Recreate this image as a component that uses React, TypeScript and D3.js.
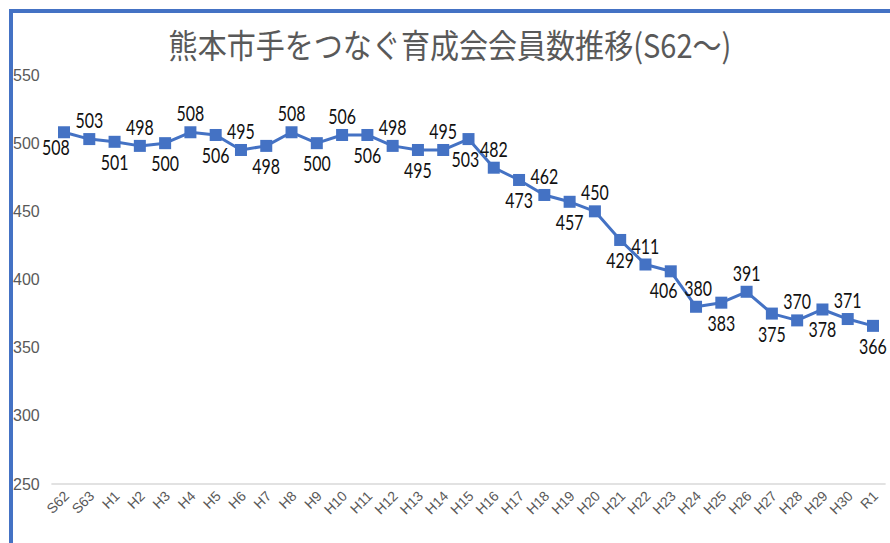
import React, { useEffect, useRef } from 'react';
import * as d3 from 'd3';

const TITLE = '熊本市手をつなぐ育成会会員数推移(S62～)';

const categories = [
  'S62', 'S63', 'H1', 'H2', 'H3', 'H4', 'H5', 'H6', 'H7', 'H8', 'H9', 'H10',
  'H11', 'H12', 'H13', 'H14', 'H15', 'H16', 'H17', 'H18', 'H19', 'H20', 'H21',
  'H22', 'H23', 'H24', 'H25', 'H26', 'H27', 'H28', 'H29', 'H30', 'R1',
];

const members = [
  508, 503, 501, 498, 500, 508, 506, 495, 498, 508, 500, 506,
  506, 498, 495, 495, 503, 482, 473, 462, 457, 450, 429,
  411, 406, 380, 383, 391, 375, 370, 378, 371, 366,
];

const yTicks = [250, 300, 350, 400, 450, 500, 550];

const WIDTH = 890;
const HEIGHT = 543;
const BLUE = '#4472C4';
const GRAY = '#595959';

// small manual nudges for crowded data labels (index -> [dx, dy])
const labelNudge: Record<number, [number, number]> = {
  0: [-8, -5],
  16: [-3, 0],
  24: [-7, -1],
  25: [2, 0],
};

const App: React.FC = () => {
  const svgRef = useRef<SVGSVGElement>(null);

  useEffect(() => {
    if (!svgRef.current) return;
    const svg = d3.select(svgRef.current);
    svg.selectAll('*').remove();

    svg.append('rect').attr('width', WIDTH).attr('height', HEIGHT).attr('fill', '#fff');

    // frame (only top and left edges are visible in the crop)
    svg.append('path')
      .attr('d', `M11,${HEIGHT} L11,11 L${WIDTH},11`)
      .attr('fill', 'none')
      .attr('stroke', BLUE)
      .attr('stroke-width', 4);

    // title
    svg.append('text')
      .attr('transform', `translate(450,58) scale(0.88,1)`)
      .attr('text-anchor', 'middle')
      .attr('font-family', "'Noto Sans CJK JP', sans-serif")
      .attr('font-size', 33)
      .attr('fill', GRAY)
      .text(TITLE);

    const x = d3.scalePoint<string>().domain(categories).range([64, 873]);
    const y = d3.scaleLinear().domain([250, 550]).range([484, 75]);
    const step = x.step();

    // horizontal axis line at 250
    svg.append('line')
      .attr('x1', x(categories[0])! - step / 2)
      .attr('x2', x(categories[categories.length - 1])! + step / 2)
      .attr('y1', y(250))
      .attr('y2', y(250))
      .attr('stroke', '#d9d9d9')
      .attr('stroke-width', 1.5);

    // y axis labels
    const yAxis = svg.append('g')
      .attr('transform', 'translate(13,0)')
      .call(d3.axisLeft(y).tickValues(yTicks).tickSize(0).tickPadding(0));
    yAxis.select('.domain').remove();
    yAxis.selectAll('text')
      .attr('text-anchor', 'start')
      .attr('x', 0)
      .attr('font-family', "'Liberation Sans', Arial, sans-serif")
      .attr('font-size', 16)
      .attr('fill', GRAY);

    // x axis labels, rotated -45°
    svg.append('g')
      .selectAll('text')
      .data(categories)
      .join('text')
      .attr('transform', d => `translate(${x(d)! + 6},497) rotate(-45)`)
      .attr('text-anchor', 'end')
      .attr('font-family', "'Liberation Sans', Arial, sans-serif")
      .attr('font-size', 14)
      .attr('fill', GRAY)
      .text(d => d);

    // line
    const line = d3.line<number>()
      .x((_, i) => x(categories[i])!)
      .y(d => y(d));
    svg.append('path')
      .datum(members)
      .attr('d', line)
      .attr('fill', 'none')
      .attr('stroke', BLUE)
      .attr('stroke-width', 3)
      .attr('stroke-linejoin', 'round');

    // square markers
    const ms = 12;
    svg.append('g')
      .selectAll('rect')
      .data(members)
      .join('rect')
      .attr('x', (_, i) => x(categories[i])! - ms / 2)
      .attr('y', d => y(d) - ms / 2)
      .attr('width', ms)
      .attr('height', ms)
      .attr('fill', BLUE);

    // data labels: alternate below / above
    svg.append('g')
      .selectAll('text')
      .data(members)
      .join('text')
      .attr('transform', (d, i) => {
        const px = x(categories[i])!;
        const py = y(d);
        const [nx, ny] = labelNudge[i] || [0, 0];
        const dy = i % 2 === 1 ? -11 : 28;
        return `translate(${px + nx},${py + dy + ny}) scale(0.76,1)`;
      })
      .attr('text-anchor', 'middle')
      .attr('font-family', "Lato, 'Noto Sans', sans-serif")
      .attr('font-size', 21)
      .attr('fill', '#111')
      .text(d => String(d));
  }, []);

  return (
    <svg
      ref={svgRef}
      width={WIDTH}
      height={HEIGHT}
      style={{ position: 'absolute', left: 0, top: 0, display: 'block' }}
    />
  );
};

export default App;
